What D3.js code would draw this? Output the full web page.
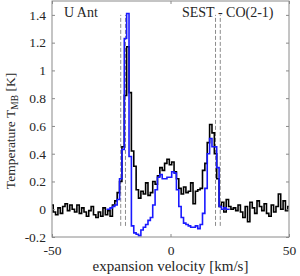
<!DOCTYPE html>
<html>
<head>
<meta charset="utf-8">
<script src="https://cdn.jsdelivr.net/npm/d3@7"></script>
<style>
    html, body { margin: 0; padding: 0; background: #fff; }
    svg { display: block; font-family: "Liberation Serif", "DejaVu Serif", serif; }
</style>
</head>
<body>
<svg id="chart" width="300" height="276"></svg>
<script>
// channel velocities [km/s] and main-beam temperatures [K]
const blackStart = -50;
const blackValues = [
    0.03, -0.02, -0.04, 0.01, -0.03, 0.02, 0.04, -0.01, 0.03, 0.0,
    -0.02, 0.03, -0.03, 0.01, -0.02, -0.05, -0.01, 0.02, -0.04, -0.06,
    -0.02, -0.05, 0.01, -0.04, -0.01, -0.05, 0.03, 0.06, 0.12, 0.2,
    0.45, 0.82, 1.17, 0.84, 0.42, 0.31, 0.14, 0.08, 0.13, 0.11,
    0.19, 0.1, 0.12, 0.2, 0.18, 0.24, 0.3, 0.28, 0.33, 0.36,
    0.32, 0.34, 0.27, 0.22, 0.15, 0.11, 0.16, 0.12, 0.13, 0.19,
    0.04, 0.13, 0.14, 0.15, 0.28, 0.33, 0.48, 0.61, 0.55, 0.4,
    0.22, 0.02, 0.05, -0.02, 0.07, 0.02, 0.0, 0.01, -0.01, 0.03,
    -0.02, -0.06, 0.02, -0.09, 0.05, 0.01, -0.03, 0.06, 0.02, -0.01,
    0.04, -0.03, -0.05, 0.03, -0.02, 0.02, 0.11, 0.0, 0.06, -0.01,
    0.02
];
const blueStart = -27;
const blueValues = [
    0.0, 0.0, 0.01, 0.02, 0.03, 0.07, 0.22, 0.43, 1.23, 1.41,
    0.38, -0.12, -0.17, -0.18, -0.19, -0.15, -0.13, -0.11, -0.08, -0.06,
    0.03, 0.14, 0.23, 0.25, 0.22, 0.22, 0.23, 0.23, 0.27, 0.26,
    0.14, 0.02, -0.06, -0.1, -0.11, -0.12, -0.13, -0.13, -0.12, -0.14,
    -0.11, -0.03, 0.15, 0.4, 0.51, 0.45, 0.45, 0.3, 0.02, 0.0,
    0.01, 0.0, 0.0
];
const markerVelocities = [-21, -19, 19, 21];
const markerRange = [-0.12, 1.4];
const xTicks = [-50, 0, 50];
const xTickLabels = ["-50", "0", "50"];
const yTicks = [-0.2, 0, 0.2, 0.4, 0.6, 0.8, 1, 1.2, 1.4];
const yTickLabels = ["-0.2", "0", "0.2", "0.4", "0.6", "0.8", "1", "1.2", "1.4"];

const svg = d3.select("#chart");
const mLeft = 52, mRight = 289, mTop = 1, mBottom = 237;

const x = d3.scaleLinear().domain([-50, 50]).range([mLeft, mRight]);
const y = d3.scaleLinear().domain([-0.2, 1.5]).range([mBottom, mTop]);

const black = blackValues.map((v, i) => [blackStart + i, v]);
const blue = blueValues.map((v, i) => [blueStart + i, v]);

const g = svg.append("g");

// clip to the axes box
svg.append("clipPath").attr("id", "clip")
    .append("rect")
    .attr("x", mLeft).attr("y", mTop)
    .attr("width", mRight - mLeft).attr("height", mBottom - mTop);

const plot = g.append("g").attr("clip-path", "url(#clip)");

const line = d3.line()
    .x(d => x(d[0]))
    .y(d => y(d[1]))
    .curve(d3.curveStep);

// dashed velocity markers
plot.selectAll(".marker")
    .data(markerVelocities)
    .enter()
    .append("line")
    .attr("x1", d => x(d)).attr("x2", d => x(d))
    .attr("y1", y(markerRange[0])).attr("y2", y(markerRange[1]))
    .style("stroke", "#8c8c8c")
    .style("stroke-width", 1)
    .style("stroke-dasharray", "4,2");

plot.append("path")
    .datum(black)
    .attr("d", line)
    .style("fill", "none")
    .style("stroke", "#000")
    .style("stroke-width", 1.6);

plot.append("path")
    .datum(blue)
    .attr("d", line)
    .style("fill", "none")
    .style("stroke", "#1a1aff")
    .style("stroke-width", 1.6);

// axes box
const axisColor = "#8a8a8a";
const tickLen = 3;

g.append("g")
    .attr("transform", "translate(0," + mBottom + ")")
    .call(d3.axisBottom(x).tickValues(xTicks).tickSize(-tickLen).tickPadding(8)
        .tickFormat((d, i) => xTickLabels[i]))
    .call(a => a.select(".domain").remove());

g.append("g")
    .attr("transform", "translate(0," + mTop + ")")
    .call(d3.axisTop(x).tickValues(xTicks).tickSize(-tickLen).tickFormat(""))
    .call(a => a.select(".domain").remove());

g.append("g")
    .attr("transform", "translate(" + mLeft + ",0)")
    .call(d3.axisLeft(y).tickValues(yTicks).tickSize(-tickLen).tickPadding(6)
        .tickFormat((d, i) => yTickLabels[i]))
    .call(a => a.select(".domain").remove());

g.append("g")
    .attr("transform", "translate(" + mRight + ",0)")
    .call(d3.axisRight(y).tickValues(yTicks).tickSize(-tickLen).tickFormat(""))
    .call(a => a.select(".domain").remove());

g.selectAll(".tick line").style("stroke", axisColor);
g.selectAll(".tick text")
    .style("font-family", "Liberation Serif")
    .style("font-size", "13.5px")
    .style("fill", "#262626");

g.append("rect")
    .attr("x", mLeft).attr("y", mTop)
    .attr("width", mRight - mLeft).attr("height", mBottom - mTop)
    .style("fill", "none")
    .style("stroke", axisColor)
    .style("stroke-width", 1);

// annotations
g.append("text")
    .attr("x", 64).attr("y", 17)
    .style("font-size", "14px")
    .style("fill", "#262626")
    .text("U Ant");

g.append("text")
    .attr("x", 182).attr("y", 17)
    .style("font-size", "14px")
    .style("fill", "#262626")
    .text("SEST - CO(2-1)");

// X label
g.append("text")
    .attr("x", (mLeft + mRight) / 2)
    .attr("y", 271)
    .attr("text-anchor", "middle")
    .style("font-size", "15px")
    .style("fill", "#262626")
    .text("expansion velocity [km/s]");

// Y label
const yl = g.append("text")
    .attr("text-anchor", "middle")
    .attr("transform", "translate(15,131)rotate(-90)")
    .style("font-size", "13.5px")
    .style("fill", "#262626");
yl.append("tspan").text("Temperature T");
yl.append("tspan").attr("dy", 3).style("font-size", "9.5px").text("MB");
yl.append("tspan").attr("dy", -3).text(" [K]");
</script>
</body>
</html>
